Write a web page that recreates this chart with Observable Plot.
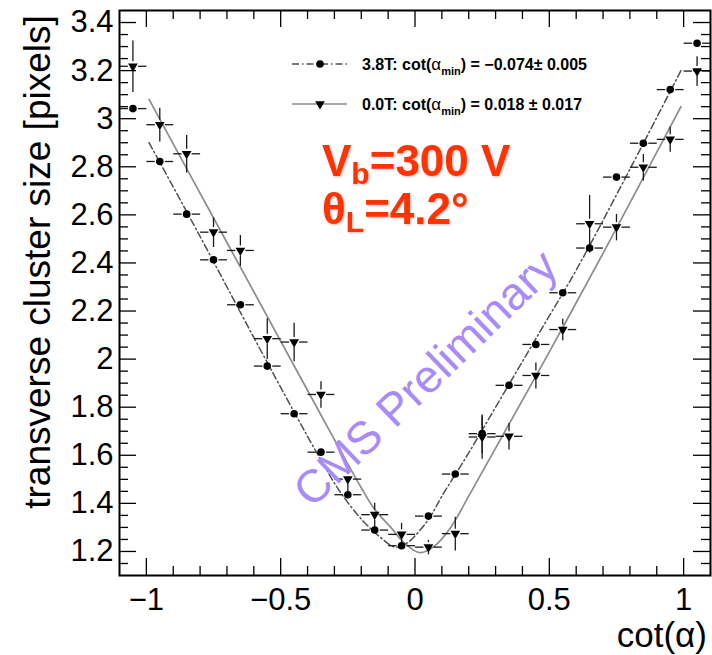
<!DOCTYPE html>
<html><head><meta charset="utf-8">
<script src="https://cdn.jsdelivr.net/npm/d3@7"></script>
<script src="https://cdn.jsdelivr.net/npm/@observablehq/plot@0.6"></script>
<style>
body{margin:0;background:#fff}
#chart svg{display:block}
</style>
</head><body><div id="chart"></div>
<script>
// ---- data ----
const bins = [-1.05,-0.95,-0.85,-0.75,-0.65,-0.55,-0.45,-0.35,-0.25,-0.15,-0.05,0.05,0.15,0.25,0.35,0.45,0.55,0.65,0.75,0.85,0.95,1.05];
const binHalfWidth = 0.05;
// 3.8T (circles)
const size38 = [3.042,2.822,2.603,2.413,2.226,1.971,1.773,1.613,1.436,1.289,1.224,1.347,1.522,1.690,1.891,2.061,2.276,2.462,2.757,2.898,3.121,3.314];
const err38  = [0.015,0.015,0.015,0.015,0.015,0.015,0.015,0.015,0.015,0.015,0.015,0.015,0.015,0.080,0.015,0.015,0.015,0.020,0.015,0.015,0.015,0.015];
// 0.0T (triangles)
const size00 = [3.218,2.975,2.854,2.528,2.452,2.085,2.071,1.853,1.501,1.353,1.271,1.218,1.274,1.676,1.679,1.932,2.123,2.563,2.549,2.798,2.914,3.198];
const err00  = [0.107,0.070,0.078,0.062,0.064,0.085,0.080,0.055,0.054,0.050,0.048,0.030,0.070,0.090,0.055,0.054,0.045,0.120,0.055,0.055,0.052,0.062];
// fit curves
const fit38X = [-0.99,-0.8,-0.6,-0.45,-0.35,-0.28,-0.2,-0.13,-0.074,-0.03,0.02,0.06,0.1,0.2,0.3,0.4,0.5,0.6,0.8,0.99];
const fit38Y = [2.90,2.51,2.09,1.78,1.58,1.45,1.335,1.26,1.218,1.235,1.29,1.35,1.43,1.61,1.80,1.99,2.18,2.37,2.79,3.20];
const fit00X = [-0.99,-0.7,-0.5,-0.3,-0.2,-0.15,-0.09,-0.04,0.018,0.07,0.133,0.2,0.3,0.5,0.7,0.99];
const fit00Y = [3.08,2.485,2.075,1.665,1.465,1.375,1.30,1.235,1.195,1.22,1.30,1.43,1.63,2.03,2.44,3.05];
// axes
const xTickValues = [-1,-0.5,0,0.5,1];
const xTickLabels = ["\u22121","\u22120.5","0","0.5","1"];
const yTickValues = [1.2,1.4,1.6,1.8,2,2.2,2.4,2.6,2.8,3,3.2,3.4];
const yTickLabels = ["1.2","1.4","1.6","1.8","2","2.2","2.4","2.6","2.8","3","3.2","3.4"];
const xMinorStep = 0.1, yMinorStep = 0.05;
const xDomain = [-1.1, 1.1], yDomain = [1.1, 3.45];
const legendLabels = [
  {name:"3.8T", value:"\u22120.074\u00b1 0.005"},
  {name:"0.0T", value:"0.018 \u00b1 0.017"}
];
const yTitle = "transverse cluster size [pixels]";
const xTitle = "cot(\u03b1)";

// ---- layout / style ----
const W = 712, H = 655;
const mL = 119, mR = 2, mT = 10, mB = 80;
const innerW = W - mL - mR, innerH = H - mT - mB;
const FONT = "'Liberation Sans', Arial, Helvetica, sans-serif";
const majorLen = 17, minorLen = 9;
const gapPx = 5;

const triDown = {
  draw(ctx, size) {
    const y = Math.sqrt(size / (Math.sqrt(3) * 3));
    ctx.moveTo(0, y * 2);
    ctx.lineTo(-Math.sqrt(3) * y, -y);
    ctx.lineTo(Math.sqrt(3) * y, -y);
    ctx.closePath();
  }
};

const pts38 = bins.map((x, i) => ({x, y: size38[i], e: err38[i]}));
const pts00 = bins.map((x, i) => ({x, y: size00[i], e: err00[i]}));
const fit38 = fit38X.map((x, i) => ({x, y: fit38Y[i]}));
const fit00 = fit00X.map((x, i) => ({x, y: fit00Y[i]}));

const kx = innerW / (xDomain[1] - xDomain[0]);
const ky = innerH / (yDomain[1] - yDomain[0]);
const gx = gapPx / kx, gy = gapPx / ky;
function hSegs(pts) {
  const out = [];
  for (const p of pts) {
    out.push({x1: p.x - binHalfWidth, x2: p.x - gx, y: p.y});
    out.push({x1: p.x + gx, x2: p.x + binHalfWidth, y: p.y});
  }
  return out;
}
function vSegs(pts) {
  const out = [];
  for (const p of pts) {
    if (p.e > gy) {
      out.push({x: p.x, y1: p.y - p.e, y2: p.y - gy});
      out.push({x: p.x, y1: p.y + gy, y2: p.y + p.e});
    }
  }
  return out;
}
const allPts = pts38.concat(pts00);

const round = v => Math.round(v * 1000) / 1000;
const xMinor = d3.range(-1.0, 1.0001, xMinorStep).map(round).filter(v => !xTickValues.some(t => Math.abs(t - v) < 1e-6));
const yMinor = d3.range(1.15, 3.4001, yMinorStep).map(round).filter(v => !yTickValues.some(t => Math.abs(t - v) < 1e-6));
const xLab = new Map(xTickValues.map((v, i) => [v, xTickLabels[i]]));
const yLab = new Map(yTickValues.map((v, i) => [v, yTickLabels[i]]));

const tickStyle = {stroke: "#000", strokeWidth: 1.3};
const svg = Plot.plot({
  width: W, height: H,
  marginLeft: mL, marginRight: mR, marginTop: mT, marginBottom: mB,
  style: {fontFamily: FONT, background: "#fff", color: "#000"},
  x: {domain: xDomain},
  y: {domain: yDomain},
  marks: [
    // ticks (inside, all four sides)
    Plot.tickX(xTickValues, {x: d => d, insetTop: innerH - majorLen, ...tickStyle}),
    Plot.tickX(xMinor, {x: d => d, insetTop: innerH - minorLen, ...tickStyle}),
    Plot.tickX(xTickValues, {x: d => d, insetBottom: innerH - majorLen, ...tickStyle}),
    Plot.tickX(xMinor, {x: d => d, insetBottom: innerH - minorLen, ...tickStyle}),
    Plot.tickY(yTickValues, {y: d => d, insetRight: innerW - majorLen, ...tickStyle}),
    Plot.tickY(yMinor, {y: d => d, insetRight: innerW - minorLen, ...tickStyle}),
    Plot.tickY(yTickValues, {y: d => d, insetLeft: innerW - majorLen, ...tickStyle}),
    Plot.tickY(yMinor, {y: d => d, insetLeft: innerW - minorLen, ...tickStyle}),
    // fits
    Plot.line(fit00, {x: "x", y: "y", stroke: "#8c8c8c", strokeWidth: 1.7, curve: "catmull-rom"}),
    Plot.line(fit38, {x: "x", y: "y", stroke: "#505050", strokeWidth: 1.5, strokeDasharray: "7,3,1.5,3", curve: "catmull-rom"}),
    // error bars
    Plot.link(hSegs(allPts), {x1: "x1", x2: "x2", y1: "y", y2: "y", stroke: "#1a1a1a", strokeWidth: 1.3}),
    Plot.link(vSegs(allPts), {x1: "x", x2: "x", y1: "y1", y2: "y2", stroke: "#1a1a1a", strokeWidth: 1.3}),
    // markers
    Plot.dot(pts38, {x: "x", y: "y", r: 3.8, fill: "#000", symbol: "circle"}),
    Plot.dot(pts00, {x: "x", y: "y", r: 3.6, fill: "#000", symbol: triDown}),
    Plot.frame({stroke: "#000", strokeWidth: 2}),
    Plot.axisX({ticks: xTickValues, tickFormat: d => xLab.get(d), tickSize: 0, tickPadding: 12, fontSize: 31, label: null}),
    Plot.axisY({ticks: yTickValues, tickFormat: d => yLab.get(d), tickSize: 0, tickPadding: 6, fontSize: 31, label: null})
  ]
});

const s = d3.select(svg);
const ann = s.append("g").attr("font-family", FONT).attr("text-anchor", "start");

// axis titles
ann.append("text")
  .attr("transform", "translate(50,262) rotate(-90)")
  .attr("text-anchor", "middle").attr("font-size", 37).attr("fill", "#000")
  .text(yTitle);
ann.append("text")
  .attr("x", 707).attr("y", 647).attr("text-anchor", "end")
  .attr("font-size", 35).attr("fill", "#000").text(xTitle);

// red annotation
const red = "#ff3300";
const t1 = ann.append("text").attr("x", 322).attr("y", 176).attr("font-size", 44).attr("text-anchor", "start")
  .attr("font-weight", "bold").attr("fill", red).style("filter", "drop-shadow(1px 1px 1px rgba(0,0,0,0.25))");
t1.append("tspan").text("V");
t1.append("tspan").attr("font-size", 30).attr("dy", 8).text("b");
t1.append("tspan").attr("dy", -8).text("=300 V");
const t2 = ann.append("text").attr("x", 322).attr("y", 224).attr("font-size", 44).attr("text-anchor", "start")
  .attr("font-weight", "bold").attr("fill", red).style("filter", "drop-shadow(1px 1px 1px rgba(0,0,0,0.25))");
t2.append("tspan").text("\u03b8");
t2.append("tspan").attr("font-size", 30).attr("dy", 8).text("L");
t2.append("tspan").attr("dy", -8).text("=4.2\u00b0");

// CMS Preliminary
ann.append("text")
  .attr("transform", "translate(425,378) rotate(-44)")
  .attr("text-anchor", "middle").attr("dominant-baseline", "central")
  .attr("font-size", 46).attr("fill", "#a98bf7").text("CMS Preliminary");

// legend
const legY = [64, 104];
const legStyles = [
  {stroke: "#505050", dash: "7,3,1.5,3", sym: d3.symbolCircle, r: 3.8},
  {stroke: "#8c8c8c", dash: null, sym: triDown, r: 3.6}
];
legendLabels.forEach((L, i) => {
  const y = legY[i], st = legStyles[i];
  ann.append("line").attr("x1", 292).attr("x2", 347).attr("y1", y).attr("y2", y)
    .attr("stroke", st.stroke).attr("stroke-width", 1.5).attr("stroke-dasharray", st.dash);
  ann.append("path").attr("transform", `translate(320,${y})`)
    .attr("d", d3.symbol(st.sym, Math.PI * st.r * st.r)()).attr("fill", "#000");
  const t = ann.append("text").attr("x", 362).attr("y", y + 6).attr("font-size", 16).attr("text-anchor", "start")
    .attr("font-weight", "bold").attr("fill", "#000");
  t.append("tspan").text(L.name + ": cot(");
  t.append("tspan").attr("font-weight", "normal").attr("font-size", 17).text("\u03b1");
  t.append("tspan").attr("font-size", 11).attr("dy", 5).text("min");
  t.append("tspan").attr("dy", -5).text(") = " + L.value);
});

document.getElementById("chart").appendChild(svg);
</script>
</body></html>
